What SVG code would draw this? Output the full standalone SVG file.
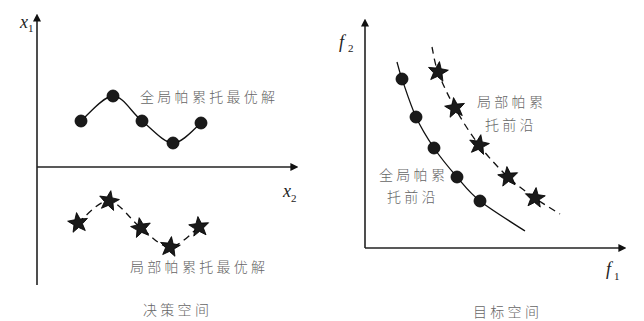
<svg xmlns="http://www.w3.org/2000/svg" xmlns:xlink="http://www.w3.org/1999/xlink" width="644" height="321" viewBox="0 0 644 321">
<style>
.axis{stroke:#222;stroke-width:1.6;fill:none}
.curve{stroke:#111;stroke-width:1.3;fill:none}
.dash{stroke:#111;stroke-width:1.3;fill:none;stroke-dasharray:7 5}
.dot{fill:#1a1a1a;stroke:#000;stroke-width:0.8}
.star{fill:#1a1a1a;stroke:#000;stroke-width:0.8}
.cn{font-family:"Noto Sans CJK SC","Noto Sans CJK JP",sans-serif;font-size:14px;font-weight:300;fill:#666;letter-spacing:3.3px}
.var{font-family:"Liberation Serif",serif;font-style:italic;font-size:18px;fill:#222}
.sub{font-family:"Liberation Serif",serif;font-size:11px;fill:#222}
</style>
<defs>
<marker id="arr" viewBox="0 0 10 10" refX="2" refY="5" markerWidth="8" markerHeight="8" markerUnits="userSpaceOnUse" orient="auto">
<path d="M0,0 L10,5 L0,10 Z" fill="#111"/>
</marker>
<path id="star" d="M0,-10.5 L2.65,-3.64 L9.99,-3.24 L4.28,1.39 L6.17,8.5 L0,4.5 L-6.17,8.5 L-4.28,1.39 L-9.99,-3.24 L-2.65,-3.64 Z"/>
</defs>

<g id="connectors">
<path class="axis" d="M37,285 V20" marker-end="url(#arr)"/>
<path class="axis" d="M37,167 H292" marker-end="url(#arr)"/>
<path class="axis" d="M365,248 V25" marker-end="url(#arr)"/>
<path class="axis" d="M365,248 H620" marker-end="url(#arr)"/>
<path class="curve" d="M81,121 C86.3,116.8 102.8,96 113,96 C123.2,96 132,113.2 142,121 C152,128.8 163.2,142.7 173,143 C182.8,143.3 196.3,126.3 201,123"/>
<path class="dash" d="M78,223 C83.2,219.3 98.5,200.2 109,201 C119.5,201.8 130.8,220.3 141,228 C151.2,235.7 160.3,247.2 170,247 C179.7,246.8 194.2,230.3 199,227"/>
<path class="curve" d="M397,62 C397.8,64.8 398.8,69.8 402,79 C405.2,88.2 410.7,105.5 416,117 C421.3,128.5 427.2,138 434,148 C440.8,158 449.3,168.2 457,177 C464.7,185.8 468.7,192 480,201 C491.3,210 517.5,226 525,231"/>
<path class="dash" d="M432,47 C433,51.2 434.2,61.8 438,72 C441.8,82.2 448.2,95.8 455,108 C461.8,120.2 470.2,133.5 479,145 C487.8,156.5 498.7,168.2 508,177 C517.3,185.8 526.3,191.8 535,198 C543.7,204.2 555.8,211.3 560,214"/>
</g>

<g id="axis-labels">
<text class="var" x="20" y="28">x</text><text class="sub" x="28" y="32">1</text>
<text class="var" x="283" y="197">x</text><text class="sub" x="291" y="202">2</text>
<text class="var" x="339" y="48">f</text><text class="sub" x="348" y="52">2</text>
<text class="var" x="606" y="275">f</text><text class="sub" x="614" y="280">1</text>
</g>

<g id="global-solutions">
<circle class="dot" cx="81" cy="121" r="6"/>
<circle class="dot" cx="113" cy="96" r="6"/>
<circle class="dot" cx="142" cy="121" r="6"/>
<circle class="dot" cx="173" cy="143" r="6"/>
<circle class="dot" cx="201" cy="123" r="6"/>
<text class="cn" x="140" y="102">全局帕累托最优解</text>
</g>

<g id="local-solutions">
<use href="#star" class="star" transform="translate(78,223) rotate(-8)"/>
<use href="#star" class="star" transform="translate(109,201) rotate(10)"/>
<use href="#star" class="star" transform="translate(141,228) rotate(-10)"/>
<use href="#star" class="star" transform="translate(170,247) rotate(8)"/>
<use href="#star" class="star" transform="translate(199,227) rotate(-6)"/>
<text class="cn" x="130" y="272">局部帕累托最优解</text>
</g>

<g id="global-front">
<circle class="dot" cx="402" cy="79" r="6"/>
<circle class="dot" cx="416" cy="117" r="6"/>
<circle class="dot" cx="434" cy="148" r="6"/>
<circle class="dot" cx="457" cy="177" r="6"/>
<circle class="dot" cx="480" cy="201" r="6"/>
<text class="cn" x="379" y="180">全局帕累</text>
<text class="cn" x="387" y="202">托前沿</text>
</g>

<g id="local-front">
<use href="#star" class="star" transform="translate(438,72) rotate(8)"/>
<use href="#star" class="star" transform="translate(455,108) rotate(-8)"/>
<use href="#star" class="star" transform="translate(479,145) rotate(10)"/>
<use href="#star" class="star" transform="translate(508,177) rotate(-6)"/>
<use href="#star" class="star" transform="translate(535,198) rotate(6)"/>
<text class="cn" x="477" y="107">局部帕累</text>
<text class="cn" x="485" y="130">托前沿</text>
</g>

<g id="captions">
<text class="cn" x="143" y="315">决策空间</text>
<text class="cn" x="473" y="317">目标空间</text>
</g>
</svg>
